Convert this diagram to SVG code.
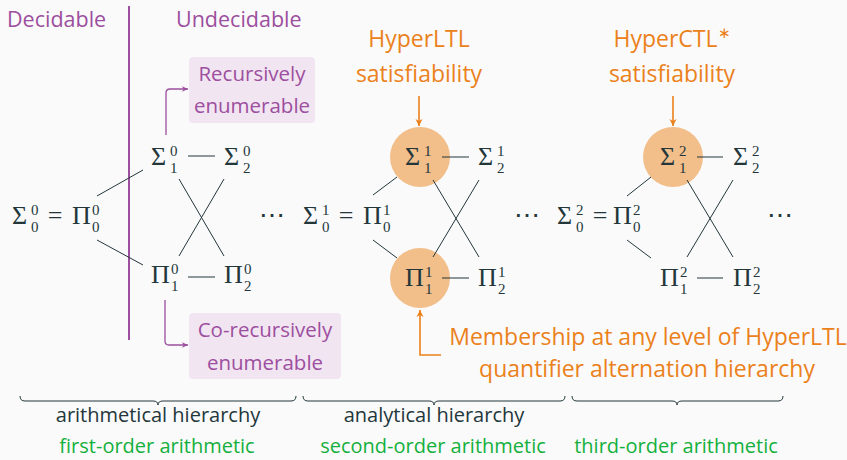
<svg xmlns="http://www.w3.org/2000/svg" width="847" height="460" viewBox="0 0 847 460">
  <defs>
    <style>
      .sans { font-family: "Open Sans", "Noto Sans", sans-serif; }
      .lbl { font-size: 20.5px; }
      .big { font-size: 23px; }
      .pur { fill: #9c4f9e; }
      .org { fill: #eb811b; }
      .grn { fill: #14b03d; font-size: 20px; }
      .drk { fill: #23373b; font-size: 20px; }
      .m { font-family: "Liberation Serif", "DejaVu Serif", serif; font-size: 26px; fill: #23373b; }
      .s { font-family: "Liberation Serif", "DejaVu Serif", serif; font-size: 15px; fill: #23373b; }
      .edge { stroke: #23373b; stroke-width: 1; fill: none; }
      .brace { stroke: #23373b; stroke-width: 1; fill: none; }
      .parrow { stroke: #9c4f9e; stroke-width: 1.3; fill: none; }
      .oarrow { stroke: #eb811b; stroke-width: 1.6; fill: none; }
      .hl { fill: #f2be8a; }
      .box { fill: #f2e5f2; }
    </style>
    <marker id="headP" markerWidth="8" markerHeight="8" refX="7" refY="4" orient="auto" markerUnits="userSpaceOnUse">
      <path d="M1,1.2 L7,4 L1,6.8 L2.6,4 Z" fill="#9c4f9e"/>
    </marker>
    <marker id="headO" markerWidth="10" markerHeight="10" refX="8" refY="5" orient="auto" markerUnits="userSpaceOnUse">
      <path d="M1,1.5 L8,5 L1,8.5 L3,5 Z" fill="#eb811b"/>
    </marker>
  </defs>

  <rect width="847" height="460" fill="#fafafa"/>

  <!-- decidable / undecidable split -->
  <g id="divider">
    <line x1="129" y1="6" x2="129" y2="340" stroke="#9c4f9e" stroke-width="2"/>
    <text class="sans pur" x="7" y="27" font-size="21.5">Decidable</text>
    <text class="sans pur" x="176" y="27" font-size="21.5">Undecidable</text>
  </g>

  <!-- highlight discs -->
  <g id="highlights">
    <circle class="hl" cx="420" cy="157" r="30"/>
    <circle class="hl" cx="420" cy="278" r="30"/>
    <circle class="hl" cx="673" cy="157" r="30"/>
  </g>

  <!-- connectors -->
  <g id="connectors">
    <!-- arithmetical hierarchy -->
    <line class="edge" x1="97" y1="196" x2="143" y2="170"/>
    <line class="edge" x1="97" y1="240" x2="143" y2="265"/>
    <line class="edge" x1="188" y1="156" x2="215" y2="156"/>
    <line class="edge" x1="188" y1="277" x2="215" y2="277"/>
    <line class="edge" x1="179" y1="179" x2="224" y2="256"/>
    <line class="edge" x1="224" y1="179" x2="179" y2="256"/>
    <!-- analytical hierarchy -->
    <line class="edge" x1="373" y1="195" x2="397" y2="177"/>
    <line class="edge" x1="373" y1="240" x2="397" y2="258"/>
    <line class="edge" x1="442" y1="157" x2="469" y2="157"/>
    <line class="edge" x1="442" y1="278" x2="469" y2="278"/>
    <line class="edge" x1="433" y1="180" x2="479" y2="257"/>
    <line class="edge" x1="479" y1="180" x2="433" y2="257"/>
    <!-- third-order level -->
    <line class="edge" x1="627" y1="196" x2="651" y2="177"/>
    <line class="edge" x1="627" y1="240" x2="651" y2="258"/>
    <line class="edge" x1="697" y1="157" x2="723" y2="157"/>
    <line class="edge" x1="697" y1="278" x2="723" y2="278"/>
    <line class="edge" x1="687" y1="180" x2="733" y2="257"/>
    <line class="edge" x1="733" y1="180" x2="687" y2="257"/>
    <!-- annotations -->
    <path class="parrow" d="M166,135 V93 Q166,89 170,89 H188" marker-end="url(#headP)"/>
    <path class="parrow" d="M165,300 V341 Q165,345 169,345 H188" marker-end="url(#headP)"/>
    <path class="oarrow" d="M419,96 V126" marker-end="url(#headO)"/>
    <path class="oarrow" d="M673,96 V126" marker-end="url(#headO)"/>
    <path class="oarrow" d="M441,355 H420 V310" marker-end="url(#headO)"/>
  </g>

  <!-- level 0 -->
  <g id="sigma0-pi0-0">
    <text class="m" x="12" y="224">Σ</text><text class="s" x="31" y="215">0</text><text class="s" x="31" y="232">0</text>
    <text class="m" x="55" y="224" text-anchor="middle">=</text>
    <text class="m" x="72" y="224">Π</text><text class="s" x="92" y="215">0</text><text class="s" x="92" y="232">0</text>
  </g>
  <g id="sigma1-0"><text class="m" x="151" y="165">Σ</text><text class="s" x="170" y="156">0</text><text class="s" x="170" y="173">1</text></g>
  <g id="sigma2-0"><text class="m" x="224" y="165">Σ</text><text class="s" x="243" y="156">0</text><text class="s" x="243" y="173">2</text></g>
  <g id="pi1-0"><text class="m" x="151" y="283">Π</text><text class="s" x="171" y="274">0</text><text class="s" x="171" y="291">1</text></g>
  <g id="pi2-0"><text class="m" x="224" y="283">Π</text><text class="s" x="244" y="274">0</text><text class="s" x="244" y="291">2</text></g>
  <g id="dots-0"><text class="m" x="272" y="224" text-anchor="middle">⋯</text></g>

  <!-- level 1 -->
  <g id="sigma0-pi0-1">
    <text class="m" x="303" y="224">Σ</text><text class="s" x="322" y="215">1</text><text class="s" x="322" y="232">0</text>
    <text class="m" x="346" y="224" text-anchor="middle">=</text>
    <text class="m" x="363" y="224">Π</text><text class="s" x="383" y="215">1</text><text class="s" x="383" y="232">0</text>
  </g>
  <g id="sigma1-1"><text class="m" x="405" y="165">Σ</text><text class="s" x="424" y="156">1</text><text class="s" x="424" y="173">1</text></g>
  <g id="sigma2-1"><text class="m" x="478" y="165">Σ</text><text class="s" x="497" y="156">1</text><text class="s" x="497" y="173">2</text></g>
  <g id="pi1-1"><text class="m" x="405" y="286">Π</text><text class="s" x="425" y="277">1</text><text class="s" x="425" y="294">1</text></g>
  <g id="pi2-1"><text class="m" x="478" y="286">Π</text><text class="s" x="498" y="277">1</text><text class="s" x="498" y="294">2</text></g>
  <g id="dots-1"><text class="m" x="527" y="224" text-anchor="middle">⋯</text></g>

  <!-- level 2 -->
  <g id="sigma0-pi0-2">
    <text class="m" x="557" y="224">Σ</text><text class="s" x="576" y="215">2</text><text class="s" x="576" y="232">0</text>
    <text class="m" x="600" y="224" text-anchor="middle">=</text>
    <text class="m" x="613" y="224">Π</text><text class="s" x="633" y="215">2</text><text class="s" x="633" y="232">0</text>
  </g>
  <g id="sigma1-2"><text class="m" x="660" y="165">Σ</text><text class="s" x="679" y="156">2</text><text class="s" x="679" y="173">1</text></g>
  <g id="sigma2-2"><text class="m" x="733" y="165">Σ</text><text class="s" x="752" y="156">2</text><text class="s" x="752" y="173">2</text></g>
  <g id="pi1-2"><text class="m" x="660" y="286">Π</text><text class="s" x="680" y="277">2</text><text class="s" x="680" y="294">1</text></g>
  <g id="pi2-2"><text class="m" x="733" y="286">Π</text><text class="s" x="753" y="277">2</text><text class="s" x="753" y="294">2</text></g>
  <g id="dots-2"><text class="m" x="780" y="224" text-anchor="middle">⋯</text></g>

  <!-- class boxes -->
  <g id="re-box">
    <rect class="box" x="189" y="57" width="126" height="66" rx="4"/>
    <text class="sans lbl pur" x="252" y="81" text-anchor="middle">Recursively</text>
    <text class="sans lbl pur" x="252" y="113" text-anchor="middle">enumerable</text>
  </g>
  <g id="core-box">
    <rect class="box" x="189" y="313" width="152" height="66" rx="4"/>
    <text class="sans lbl pur" x="265" y="337" text-anchor="middle">Co-recursively</text>
    <text class="sans lbl pur" x="265" y="370" text-anchor="middle">enumerable</text>
  </g>

  <!-- problem labels -->
  <g id="hyperltl-sat">
    <text class="sans big org" x="419" y="47" text-anchor="middle">HyperLTL</text>
    <text class="sans big org" x="419" y="82" text-anchor="middle">satisfiability</text>
  </g>
  <g id="hyperctl-sat">
    <text class="sans big org" x="672" y="47" text-anchor="middle">HyperCTL<tspan font-size="15" dy="-9">∗</tspan></text>
    <text class="sans big org" x="672" y="82" text-anchor="middle">satisfiability</text>
  </g>
  <g id="membership">
    <text class="sans big org" x="648" y="345" text-anchor="middle">Membership at any level of HyperLTL</text>
    <text class="sans big org" x="647" y="377" text-anchor="middle">quantifier alternation hierarchy</text>
  </g>

  <!-- hierarchy braces -->
  <g id="braces">
    <path class="brace" d="M20,396 Q20,401 25,401 H153 Q158,401 158,405 Q158,401 163,401 H291 Q296,401 296,396"/>
    <path class="brace" d="M303,396 Q303,401 308,401 H429 Q434,401 434,405 Q434,401 439,401 H560 Q565,401 565,396"/>
    <path class="brace" d="M572,396 Q572,401 577,401 H672 Q677,401 677,405 Q677,401 682,401 H778 Q783,401 783,396"/>
  </g>
  <g id="arith-label">
    <text class="sans drk" x="158" y="422" text-anchor="middle">arithmetical hierarchy</text>
    <text class="sans grn" x="157" y="453" text-anchor="middle">first-order arithmetic</text>
  </g>
  <g id="analytic-label">
    <text class="sans drk" x="434" y="422" text-anchor="middle">analytical hierarchy</text>
    <text class="sans grn" x="433" y="453" text-anchor="middle">second-order arithmetic</text>
  </g>
  <g id="third-label">
    <text class="sans grn" x="676" y="453" text-anchor="middle">third-order arithmetic</text>
  </g>
</svg>
